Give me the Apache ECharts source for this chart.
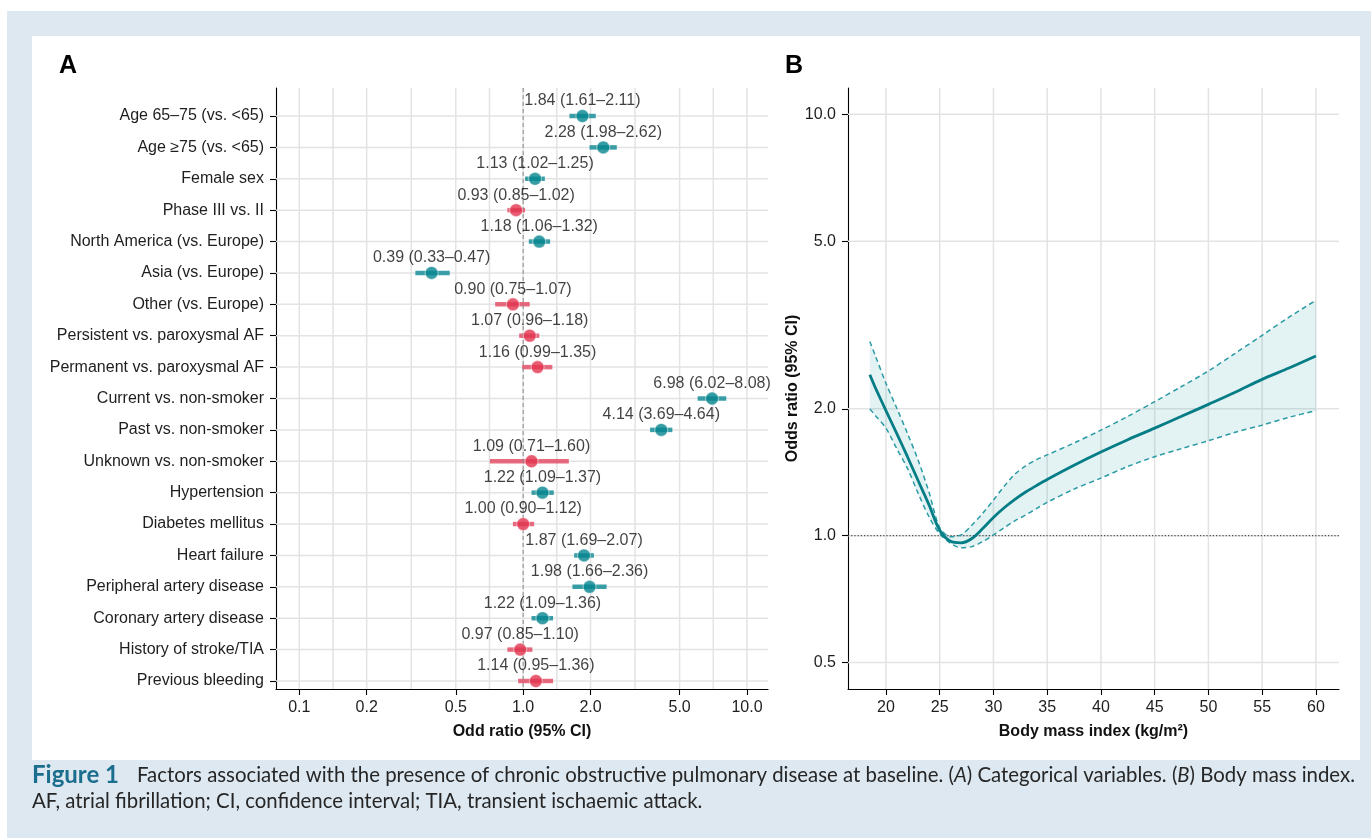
<!DOCTYPE html>
<html><head><meta charset="utf-8">
<script src="https://cdn.jsdelivr.net/npm/echarts@6/dist/echarts.min.js"></script>
<style>html,body{margin:0;padding:0;background:#fff}#c{width:1371px;height:838px}</style>
</head><body><div id="c"></div>
<script>
// ---------- Panel A data ----------
const categories = [
  'Age 65–75 (vs. <65)', 'Age ≥75 (vs. <65)', 'Female sex', 'Phase III vs. II',
  'North America (vs. Europe)', 'Asia (vs. Europe)', 'Other (vs. Europe)',
  'Persistent vs. paroxysmal AF', 'Permanent vs. paroxysmal AF',
  'Current vs. non-smoker', 'Past vs. non-smoker', 'Unknown vs. non-smoker',
  'Hypertension', 'Diabetes mellitus', 'Heart failure', 'Peripheral artery disease',
  'Coronary artery disease', 'History of stroke/TIA', 'Previous bleeding'
];
const oddsRatio = [1.84, 2.28, 1.13, 0.93, 1.18, 0.39, 0.90, 1.07, 1.16, 6.98, 4.14, 1.09, 1.22, 1.00, 1.87, 1.98, 1.22, 0.97, 1.14];
const ciLower   = [1.61, 1.98, 1.02, 0.85, 1.06, 0.33, 0.75, 0.96, 0.99, 6.02, 3.69, 0.71, 1.09, 0.90, 1.69, 1.66, 1.09, 0.85, 0.95];
const ciUpper   = [2.11, 2.62, 1.25, 1.02, 1.32, 0.47, 1.07, 1.18, 1.35, 8.08, 4.64, 1.60, 1.37, 1.12, 2.07, 2.36, 1.36, 1.10, 1.36];
const orTickValuesA = [0.1, 0.2, 0.5, 1, 2, 5, 10];

// ---------- Panel B data ----------
const bmi      = [18.5, 19, 20, 21, 22, 23, 24, 25, 26, 27, 28, 29, 30, 31, 32, 33, 34, 35, 37.5, 40, 42.5, 45, 47.5, 50, 52.5, 55, 57.5, 60];
const bmiOR    = [2.41, 2.25, 1.98, 1.75, 1.54, 1.35, 1.185, 1.03, 0.97, 0.962, 0.985, 1.04, 1.105, 1.165, 1.22, 1.27, 1.315, 1.36, 1.47, 1.58, 1.69, 1.80, 1.92, 2.05, 2.19, 2.35, 2.50, 2.67];
const bmiUpper = [2.89, 2.68, 2.30, 2.01, 1.75, 1.51, 1.27, 1.045, 0.995, 1.005, 1.06, 1.13, 1.215, 1.31, 1.40, 1.465, 1.515, 1.555, 1.66, 1.78, 1.92, 2.08, 2.26, 2.46, 2.71, 2.99, 3.30, 3.62];
const bmiLower = [2.00, 1.93, 1.80, 1.61, 1.445, 1.26, 1.11, 1.01, 0.96, 0.936, 0.942, 0.968, 1.004, 1.045, 1.085, 1.12, 1.16, 1.20, 1.29, 1.37, 1.46, 1.54, 1.61, 1.68, 1.76, 1.83, 1.91, 1.98];
const bmiTickValues = [20, 25, 30, 35, 40, 45, 50, 55, 60];
const orTickValuesB = [0.5, 1, 2, 5, 10];

// ---------- styling ----------
const FONT = '"Liberation Sans", Arial, sans-serif';
const TEAL = '#05858f', TEAL_BAR = 'rgba(5,133,143,0.78)';
const RED = '#e2334f', RED_BAR = 'rgba(226,51,79,0.72)';
const GRID_C = '#e3e3e3';

const rows = categories.map((_, i) => i);
const isSig = i => (ciLower[i] > 1 || ciUpper[i] < 1);
// ggplot-style minor breaks: geometric midpoints between major breaks
const minorA = [];
for (let k = 0; k < orTickValuesA.length - 1; k++) minorA.push(Math.sqrt(orTickValuesA[k] * orTickValuesA[k + 1]));
const gridXA = orTickValuesA.concat(minorA);

function vLine(stroke, lw, dash) {
  return function (params, api) {
    const cs = params.coordSys;
    const x = api.coord([api.value(0), api.value(1)])[0];
    return { type: 'line', shape: { x1: x, y1: cs.y, x2: x, y2: cs.y + cs.height },
      style: { stroke: stroke, lineWidth: lw, lineDash: dash || null } };
  };
}
function hLine(stroke, lw, dash) {
  return function (params, api) {
    const cs = params.coordSys;
    const y = api.coord([api.value(0), api.value(1)])[1];
    return { type: 'line', shape: { x1: cs.x, y1: y, x2: cs.x + cs.width, y2: y },
      style: { stroke: stroke, lineWidth: lw, lineDash: dash || null } };
  };
}
const fmt2 = v => v.toFixed(2);

// ---------- caption: choose font whose line proportions match, fit size ----------
const capLine1 = 'Factors associated with the presence of chronic obstructive pulmonary disease at baseline. (A) Categorical variables. (B) Body mass index.';
const capLine2 = 'AF, atrial fibrillation; CI, confidence interval; TIA, transient ischaemic attack.';
const mctx = document.createElement('canvas').getContext('2d');
function mw(text, weight, family) { mctx.font = weight + ' 20px ' + family; return mctx.measureText(text).width; }
const candidates = ['"DejaVu Sans"', '"Open Sans"', '"Noto Sans"', 'Lato', 'Roboto', 'Inter', '"Liberation Sans"'];
const targetRatio = 1221 / 773;
let CAP_FAMILY = candidates[0], bestErr = 1e9;
candidates.forEach(f => {
  const r = mw(capLine1, 'normal', f) / mw(capLine2, 'normal', f);
  const e = Math.abs(r - targetRatio);
  if (e < bestErr) { bestErr = e; CAP_FAMILY = f; }
});
const capSize = 20 * 1221 / mw(capLine1, 'normal', CAP_FAMILY);
const figSize = Math.min(24, 20 * 92 / mw('Figure 1', 'bold', CAP_FAMILY));

const axisCommon = {
  axisLine: { show: true, onZero: false, lineStyle: { color: '#000', width: 1.1 } },
  axisTick: { show: true, length: 6, lineStyle: { color: '#000', width: 1.1 } },
  splitLine: { show: false },
  nameTextStyle: { fontFamily: FONT, fontWeight: 'bold', fontSize: 16, color: '#111' }
};
const labelCommon = { fontFamily: FONT, fontSize: 16, color: '#1e1e1e' };

const option = {
  backgroundColor: '#ffffff',
  animation: false,
  grid: [
    { left: 276, top: 88, width: 492, height: 601 },
    { left: 848, top: 88, width: 491, height: 601 }
  ],
  xAxis: [
    Object.assign({}, axisCommon, {
      type: 'log', logBase: 10, gridIndex: 0, min: 0.0787, max: 12.41,
      axisTick: Object.assign({}, axisCommon.axisTick, { customValues: orTickValuesA }),
      axisLabel: Object.assign({}, labelCommon, { customValues: orTickValuesA, margin: 11,
        formatter: v => Number(v).toFixed(1) }),
      name: 'Odd ratio (95% CI)', nameLocation: 'middle', nameGap: 35
    }),
    Object.assign({}, axisCommon, {
      type: 'value', gridIndex: 1, min: 16.47, max: 62.15,
      axisTick: Object.assign({}, axisCommon.axisTick, { customValues: bmiTickValues }),
      axisLabel: Object.assign({}, labelCommon, { customValues: bmiTickValues, margin: 11 }),
      name: 'Body mass index (kg/m²)', nameLocation: 'middle', nameGap: 35
    })
  ],
  yAxis: [
    Object.assign({}, axisCommon, {
      type: 'value', gridIndex: 0, inverse: true, min: -0.892, max: 18.255,
      axisTick: Object.assign({}, axisCommon.axisTick, { customValues: rows }),
      axisLabel: Object.assign({}, labelCommon, { customValues: rows, margin: 12,
        formatter: v => categories[Math.round(v)] || '' })
    }),
    Object.assign({}, axisCommon, {
      type: 'log', logBase: 10, gridIndex: 1, min: 0.4327, max: 11.55,
      axisTick: Object.assign({}, axisCommon.axisTick, { customValues: orTickValuesB }),
      axisLabel: Object.assign({}, labelCommon, { customValues: orTickValuesB, margin: 12,
        formatter: v => Number(v).toFixed(1) }),
      name: 'Odds ratio (95% CI)', nameLocation: 'middle', nameGap: 44, nameRotate: 90
    })
  ],
  series: [
    // Panel A gridlines
    { type: 'custom', xAxisIndex: 0, yAxisIndex: 0, silent: true, z: 1,
      data: gridXA.map(v => [v, 0]), renderItem: vLine(GRID_C, 1.5) },
    { type: 'custom', xAxisIndex: 0, yAxisIndex: 0, silent: true, z: 1,
      data: rows.map(i => [1, i]), renderItem: hLine(GRID_C, 1.5) },
    // CI bars
    { type: 'custom', xAxisIndex: 0, yAxisIndex: 0, silent: true, z: 2,
      encode: { x: [0, 1], y: 2 },
      data: rows.map(i => [ciLower[i], ciUpper[i], i, isSig(i) ? 1 : 0]),
      renderItem: function (params, api) {
        const p1 = api.coord([api.value(0), api.value(2)]);
        const p2 = api.coord([api.value(1), api.value(2)]);
        return { type: 'line', shape: { x1: p1[0], y1: p1[1], x2: p2[0], y2: p2[1] },
          style: { stroke: api.value(3) ? TEAL_BAR : RED_BAR, lineWidth: 4.5 } };
      } },
    // reference line at OR = 1
    { type: 'custom', xAxisIndex: 0, yAxisIndex: 0, silent: true, z: 3,
      data: [[1, 0]], renderItem: vLine('#8a8a8a', 1, [4, 3]) },
    // points with labels
    { type: 'scatter', xAxisIndex: 0, yAxisIndex: 0, z: 4, symbol: 'circle', symbolSize: 13,
      data: rows.map(i => ({ value: [oddsRatio[i], i],
        itemStyle: { color: isSig(i) ? TEAL : RED, borderColor: 'rgba(255,255,255,0.55)', borderWidth: 1.2 } })),
      label: { show: true, position: 'inside', offset: [0, -15], fontFamily: FONT, fontSize: 16, color: '#111',
        textBorderWidth: 0,
        formatter: p => fmt2(oddsRatio[p.dataIndex]) + ' (' + fmt2(ciLower[p.dataIndex]) + '–' + fmt2(ciUpper[p.dataIndex]) + ')' },
      emphasis: { disabled: true } },

    // Panel B gridlines
    { type: 'custom', xAxisIndex: 1, yAxisIndex: 1, silent: true, z: 1,
      data: bmiTickValues.map(v => [v, 1]), renderItem: vLine(GRID_C, 1.5) },
    { type: 'custom', xAxisIndex: 1, yAxisIndex: 1, silent: true, z: 1,
      data: orTickValuesB.map(v => [30, v]), renderItem: hLine(GRID_C, 1.5) },
    // CI band
    { type: 'custom', xAxisIndex: 1, yAxisIndex: 1, silent: true, z: 2,
      data: [[bmi[0], bmiOR[0]]],
      renderItem: function (params, api) {
        const pts = [];
        for (let k = 0; k < bmi.length; k++) pts.push(api.coord([bmi[k], bmiUpper[k]]));
        for (let k = bmi.length - 1; k >= 0; k--) pts.push(api.coord([bmi[k], bmiLower[k]]));
        return { type: 'polygon', shape: { points: pts }, style: { fill: 'rgba(0,140,150,0.11)' } };
      } },
    // dotted line at 1.0
    { type: 'custom', xAxisIndex: 1, yAxisIndex: 1, silent: true, z: 3,
      data: [[30, 1]], renderItem: hLine('#222', 1, [1.2, 2]) },
    { type: 'line', xAxisIndex: 1, yAxisIndex: 1, z: 4, smooth: 0.3, showSymbol: false, silent: true,
      data: bmi.map((b, k) => [b, bmiUpper[k]]),
      lineStyle: { color: '#2a9ba4', width: 1.5, type: [5, 3.5] } },
    { type: 'line', xAxisIndex: 1, yAxisIndex: 1, z: 4, smooth: 0.3, showSymbol: false, silent: true,
      data: bmi.map((b, k) => [b, bmiLower[k]]),
      lineStyle: { color: '#2a9ba4', width: 1.5, type: [5, 3.5] } },
    { type: 'line', xAxisIndex: 1, yAxisIndex: 1, z: 5, smooth: 0.3, showSymbol: false, silent: true,
      data: bmi.map((b, k) => [b, bmiOR[k]]),
      lineStyle: { color: '#047d86', width: 2.8 } }
  ],
  graphic: { elements: [
    { type: 'rect', silent: true, z: -10, shape: { x: 7, y: 11, width: 1364, height: 827 }, style: { fill: '#dde8f1' } },
    { type: 'rect', silent: true, z: -9, shape: { x: 32, y: 36, width: 1328, height: 724 }, style: { fill: '#ffffff' } },
    { type: 'text', x: 68, y: 66, style: { text: 'A', fontFamily: FONT, fontWeight: 'bold', fontSize: 25, fill: '#000', align: 'center', verticalAlign: 'middle' } },
    { type: 'text', x: 794, y: 66, style: { text: 'B', fontFamily: FONT, fontWeight: 'bold', fontSize: 25, fill: '#000', align: 'center', verticalAlign: 'middle' } },
    { type: 'text', x: 32, y: 775, style: { text: 'Figure 1', fontFamily: CAP_FAMILY, fontWeight: 'bold', fontSize: figSize, fill: '#1b6e8d', align: 'left', verticalAlign: 'middle' } },
    { type: 'text', x: 137, y: 775, style: {
        text: 'Factors associated with the presence of chronic obstructive pulmonary disease at baseline. ({i|A}) Categorical variables. ({i|B}) Body mass index.',
        fontFamily: CAP_FAMILY, fontSize: capSize, fill: '#262626', align: 'left', verticalAlign: 'middle',
        rich: { i: { fontFamily: CAP_FAMILY, fontSize: capSize, fontStyle: 'italic', fill: '#262626' } } } },
    { type: 'text', x: 32, y: 801, style: {
        text: capLine2,
        fontFamily: CAP_FAMILY, fontSize: capSize, fill: '#262626', align: 'left', verticalAlign: 'middle' } }
  ] }
};

const chart = echarts.init(document.getElementById('c'), null, { renderer: 'canvas' });
chart.setOption(option);
</script>
</body></html>
